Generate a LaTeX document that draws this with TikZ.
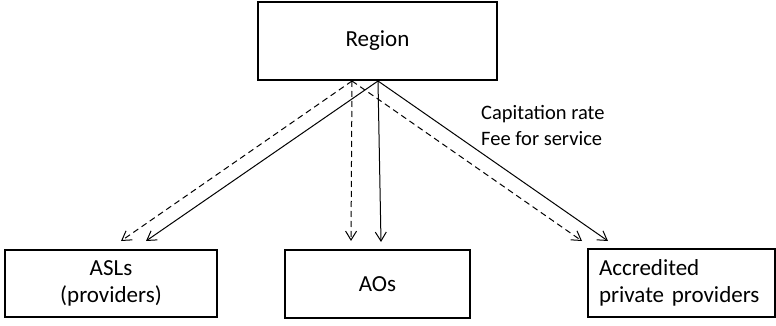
\documentclass[tikz,border=0pt]{standalone}
\usepackage{fontspec}
\setmainfont{Carlito}
\usepackage{tikz}
\usetikzlibrary{arrows.meta}

\begin{document}
\begin{tikzpicture}[x=1pt,y=-1pt,
  box/.style={draw, line width=2pt, inner sep=0pt, font=\fontsize{23}{27}\selectfont},
  pay/.style={line width=1pt, -{Straight Barb[length=9pt,width=11pt]}},
  info/.style={pay, dash pattern=on 6pt off 4pt}]
\useasboundingbox (0,0) rectangle (776,326);
\node [box, minimum width=239pt, minimum height=78pt] (region) at (377.5,41) {Region};
\node [box, minimum width=212pt, minimum height=67pt, align=center] (asl) at (111,283.5) {ASLs\\(providers)};
\node [box, minimum width=185pt, minimum height=68pt] (ao) at (377.5,284) {AOs};
\node [box, minimum width=187pt, minimum height=68pt, align=left, text width=165pt] (acc) at (681.5,283) {Accredited\\private providers};
\node [anchor=west, align=left, inner sep=0pt, font=\fontsize{20.5}{26}\selectfont] (lab) at (481,125) {Capitation rate\\Fee for service};
% solid: payments
\draw [pay] ([xshift=0.5pt]region.south) -- ([xshift=35pt,yshift=8pt]asl.north);
\draw [pay] ([xshift=0.5pt]region.south) -- ([xshift=3.5pt,yshift=7pt]ao.north);
\draw [pay] ([xshift=0.5pt]region.south) -- ([xshift=-73.5pt,yshift=7pt]acc.north);
% dashed
\draw [info] ([xshift=-25.5pt]region.south) -- ([xshift=10pt,yshift=8pt]asl.north);
\draw [info] ([xshift=-25.5pt]region.south) -- ([xshift=-26.5pt,yshift=8pt]ao.north);
\draw [info] ([xshift=-25.5pt]region.south) -- ([xshift=-99.5pt,yshift=7pt]acc.north);
\end{tikzpicture}
\end{document}
